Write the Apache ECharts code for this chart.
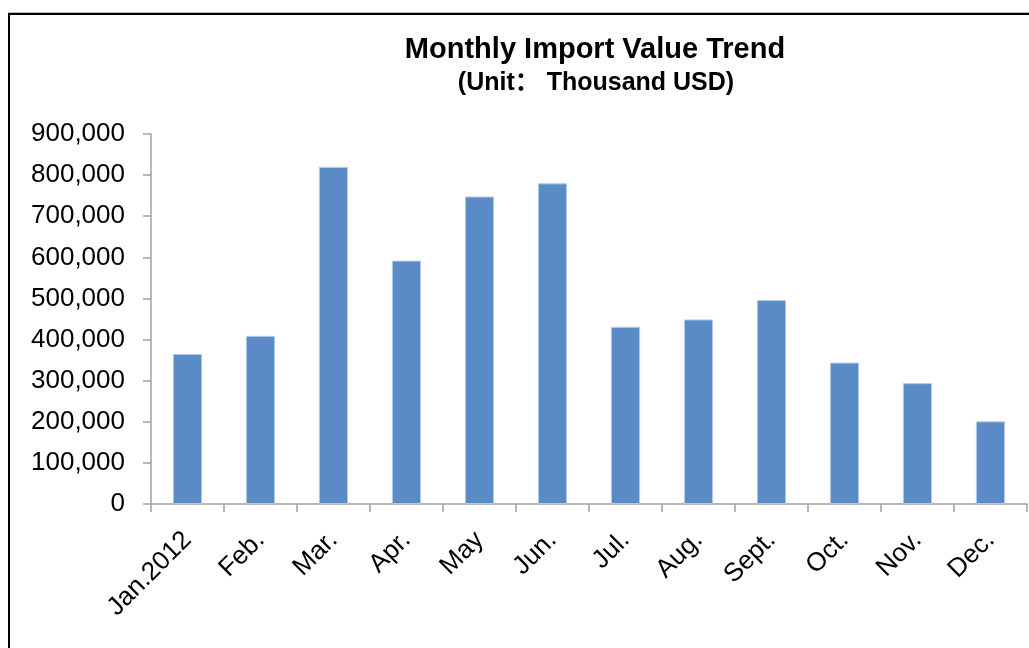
<!DOCTYPE html>
<html>
<head>
<meta charset="utf-8">
<title>Monthly Import Value Trend</title>
<script src="https://cdn.jsdelivr.net/npm/echarts@6/dist/echarts.min.js"></script>
<style>
    html, body {margin: 0; padding: 0; background: #fff;}
    #frame {position: absolute; left: 8px; top: 13px; width: 1100px; height: 700px;
        border-left: 2px solid #000; border-top: 2px solid #000; box-shadow: 0 -1px 0 #bbb;}
    #main {position: absolute; left: 0; top: 0; width: 1029px; height: 648px;}
</style>
</head>
<body>
<div id="frame"></div>
<div id="main"></div>
<script>
// 数据
var months = ['Jan.2012', 'Feb.', 'Mar.', 'Apr.', 'May', 'Jun.', 'Jul.', 'Aug.', 'Sept.', 'Oct.', 'Nov.', 'Dec.'];
var importValues = [365000, 409000, 820000, 592000, 748000, 780000, 431000, 449000, 496000, 344000, 294000, 201000];
var yMin = 0;
var yMax = 900000;
var yStep = 100000;

var barChart = function () {

};
barChart.prototype = {
    init: function (dom) {
        var me = this;
        me._dom = dom;
        me._myChart = echarts.init(dom);
    },
    show: function () {
        var me = this;
        var axisColor = '#a0a0a0';
        me._option = {
            animation: false,
            title: [{
                text: 'Monthly Import Value Trend',
                left: 590,
                top: 30,
                textAlign: 'center',
                textStyle: {
                    fontFamily: 'Liberation Sans, Arial, sans-serif',
                    fontSize: 29,
                    fontWeight: 'bold',
                    color: '#000'
                }
            }, {
                text: '(Unit\uff1a Thousand USD)',
                left: 591,
                top: 66,
                textAlign: 'center',
                textStyle: {
                    fontFamily: 'Liberation Sans, Noto Sans CJK SC, sans-serif',
                    fontSize: 25,
                    fontWeight: 'bold',
                    color: '#000'
                }
            }],
            grid: {
                left: 151,
                right: 2,
                top: 134,
                bottom: 144
            },
            xAxis: {
                type: 'category',
                data: months,
                axisLine: {
                    lineStyle: {color: axisColor, width: 1.5}
                },
                axisTick: {
                    show: true,
                    length: 8,
                    lineStyle: {color: axisColor, width: 1.5}
                },
                axisLabel: {
                    rotate: 45,
                    margin: 32,
                    interval: 0,
                    fontFamily: 'Liberation Sans, Arial, sans-serif',
                    fontSize: 26,
                    color: '#000'
                },
                splitLine: {show: false}
            },
            yAxis: {
                type: 'value',
                min: yMin,
                max: yMax,
                interval: yStep,
                axisLine: {
                    show: true,
                    lineStyle: {color: axisColor, width: 1.5}
                },
                axisTick: {
                    show: true,
                    length: 8,
                    lineStyle: {color: axisColor, width: 1.5}
                },
                axisLabel: {
                    margin: 26,
                    fontFamily: 'Liberation Sans, Arial, sans-serif',
                    fontSize: 26,
                    color: '#000',
                    formatter: function (v) {
                        return v.toLocaleString('en-US');
                    }
                },
                splitLine: {show: false}
            },
            series: [
                {
                    type: 'bar',
                    barWidth: '40%',
                    itemStyle: {
                        color: '#5b8bc6',
                        borderColor: '#b4cbe6',
                        borderWidth: 1
                    },
                    data: importValues
                }
            ]
        };
        me._myChart.setOption(me._option);
    }
};

var chart = new barChart();
chart.init(document.getElementById('main'));
chart.show();
</script>
</body>
</html>
